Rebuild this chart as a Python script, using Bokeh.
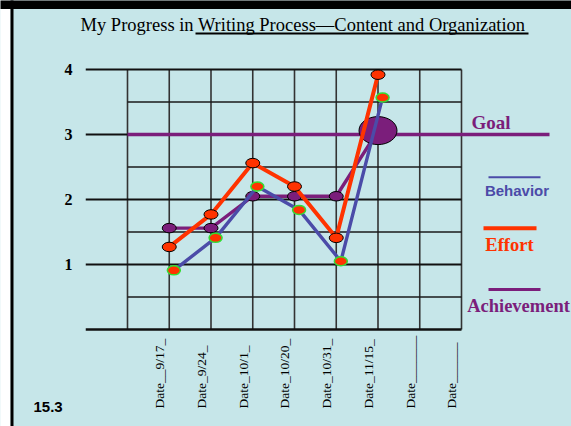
from math import pi
from bokeh.plotting import figure
from bokeh.models import Range1d, FixedTicker, ColumnDataSource, LabelSet, Label, BoxAnnotation
from bokeh.transform import dodge
from bokeh.core.properties import value
from bokeh.embed import file_html
from bokeh.resources import INLINE

# ---------------- data ----------------
title_text = "My Progress in Writing Process\u2014Content and Organization"
date_labels = ["Date__9/17_", "Date_9/24_", "Date_10/1_", "Date_10/20_",
               "Date_10/31_", "Date_11/15_", "Date_______", "Date______"]
sessions = [1, 2, 3, 4, 5, 6]
effort = [1.27, 1.77, 2.56, 2.20, 1.41, 3.92]
behavior = [0.91, 1.41, 2.20, 1.84, 1.05, 3.57]
achievement = [1.56, 1.56, 2.05, 2.05, 2.05, 3.06]
goal = 3
y_ticks = [1, 2, 3, 4]
legend_names = ["Goal", "Behavior", "Effort", "Achievement"]
slide_number = "15.3"

# ---------------- layout helpers ----------------
BG = "#C6E6E9"
PURPLE = "#7B1E7B"
RED = "#FF3300"
BLUE = "#4B4BA8"
GREEN = "#33DD33"
SERIF = "Liberation Serif"
SANS = "Liberation Sans"

PX, PY = 41.75, 65.0          # pixels per unit
OX, OY = 127.0, 329.0         # canvas position of (0, 0)
W, H = 571, 426


def xd(px):
    return (px - OX) / PX


def yd(py):
    return (OY - py) / PY


p = figure(width=W, height=H, output_backend="svg", toolbar_location=None,
           x_range=Range1d(xd(0), xd(W)), y_range=Range1d(yd(H), yd(0)),
           x_axis_location=None,
           min_border_left=0, min_border_right=0, min_border_top=0,
           min_border_bottom=0)
p.background_fill_color = BG
p.border_fill_color = BG
p.outline_line_color = None
p.grid.visible = False

# y axis (drawn inside the canvas, left of the grid)
ax = p.yaxis[0]
ax.fixed_location = xd(80)
ax.ticker = FixedTicker(ticks=y_ticks)
ax.axis_line_color = None
ax.major_tick_line_color = None
ax.minor_tick_line_color = None
ax.major_tick_out = 0
ax.major_tick_in = 0
ax.major_label_standoff = 8
ax.major_label_text_font = SERIF
ax.major_label_text_font_style = "bold"
ax.major_label_text_font_size = "16px"
ax.major_label_text_color = "black"

# grid
n_cols = len(date_labels)
top = max(y_ticks)
cols = list(range(n_cols + 1))
p.segment(x0=cols, y0=[0] * len(cols), x1=cols, y1=[top] * len(cols),
          line_color="#333333", line_width=1.6)
halves = [t - 0.5 for t in y_ticks]
p.segment(x0=[0] * len(halves), y0=halves, x1=[n_cols] * len(halves), y1=halves,
          line_color="#1a1a1a", line_width=1.6)
majors = y_ticks
p.segment(x0=[-1] * len(majors), y0=majors, x1=[n_cols] * len(majors), y1=majors,
          line_color="#111111", line_width=1.8)
p.segment(x0=[-1], y0=[0], x1=[n_cols], y1=[0], line_color="#111111", line_width=2.6)

# goal line
p.segment(x0=[0], y0=[goal], x1=[xd(549)], y1=[goal], line_color=PURPLE, line_width=3.6)

# achievement
src_a = ColumnDataSource(dict(x=sessions, y=achievement))
p.line("x", "y", source=src_a, line_color=PURPLE, line_width=3.4)
p.ellipse(x=sessions[:-1], y=achievement[:-1], width=14, height=9.5,
          width_units="screen", height_units="screen",
          fill_color=PURPLE, line_color="black", line_width=1)
p.ellipse(x=sessions[-1:], y=achievement[-1:], width=38, height=28,
          width_units="screen", height_units="screen",
          fill_color=PURPLE, line_color="black", line_width=1)

# effort
src_e = ColumnDataSource(dict(x=sessions, y=effort))
p.line("x", "y", source=src_e, line_color=RED, line_width=4)
p.ellipse("x", "y", source=src_e, width=14, height=9.5,
          width_units="screen", height_units="screen",
          fill_color=RED, line_color="black", line_width=1)

# behavior
src_b = ColumnDataSource(dict(x=sessions, y=behavior))
p.line(x=dodge("x", 0.11), y="y", source=src_b, line_color=BLUE, line_width=3.4)
p.ellipse(x=dodge("x", 0.11), y="y", source=src_b, width=13, height=9,
          width_units="screen", height_units="screen",
          fill_color=RED, line_color=GREEN, line_width=1.5)

# date labels (x axis)
src_d = ColumnDataSource(dict(x=list(range(1, n_cols + 1)), text=date_labels))
p.add_layout(LabelSet(x=dodge("x", -0.23), y=value(yd(408)), text="text", source=src_d,
                      angle=pi / 2, text_align="left", text_baseline="middle",
                      text_font=value(SERIF), text_font_size=value("13.5px"),
                      text_color="black"))

# title
p.add_layout(Label(x=xd(302.5), y=yd(24), text=title_text, text_align="center",
                   text_baseline="middle", text_font=SERIF,
                   text_font_size="18.5px", text_color="black"))
p.segment(x0=[xd(195)], y0=[yd(33)], x1=[xd(528)], y1=[yd(33)],
          line_color="black", line_width=1.8)

# legend
p.add_layout(Label(x=xd(471), y=yd(122), text=legend_names[0], text_align="left",
                   text_baseline="middle", text_font=SERIF, text_font_style="bold",
                   text_font_size="19px", text_color=PURPLE))
p.segment(x0=[xd(488)], y0=[yd(176.7)], x1=[xd(540)], y1=[yd(176.7)],
          line_color=BLUE, line_width=2)
p.add_layout(Label(x=xd(516.5), y=yd(190), text=legend_names[1], text_align="center",
                   text_baseline="middle", text_font=SANS, text_font_style="bold",
                   text_font_size="15px", text_color=BLUE))
p.segment(x0=[xd(483)], y0=[yd(227.7)], x1=[xd(536)], y1=[yd(227.7)],
          line_color=RED, line_width=4)
p.add_layout(Label(x=xd(509), y=yd(244), text=legend_names[2], text_align="center",
                   text_baseline="middle", text_font=SERIF, text_font_style="bold",
                   text_font_size="18.5px", text_color=RED))
p.segment(x0=[xd(488)], y0=[yd(289)], x1=[xd(540)], y1=[yd(289)],
          line_color=PURPLE, line_width=3)
p.add_layout(Label(x=xd(518), y=yd(305), text=legend_names[3], text_align="center",
                   text_baseline="middle", text_font=SERIF, text_font_style="bold",
                   text_font_size="18.5px", text_color=PURPLE))

# slide number
p.add_layout(Label(x=xd(33), y=yd(406.5), text=slide_number, text_align="left",
                   text_baseline="middle", text_font=SANS, text_font_style="bold",
                   text_font_size="15px", text_color="black"))

# slide frame: white strip, black left and top borders
p.add_layout(BoxAnnotation(left=xd(-5), right=xd(10), bottom=yd(440), top=yd(-5),
                           fill_color="white", fill_alpha=1, line_color=None))
p.add_layout(BoxAnnotation(left=xd(10), right=xd(13), bottom=yd(440), top=yd(-5),
                           fill_color="black", fill_alpha=1, line_color=None))
p.add_layout(BoxAnnotation(left=xd(-5), right=xd(580), bottom=yd(8.5), top=yd(-5),
                           fill_color="black", fill_alpha=1, line_color=None))

open("out.html", "w").write(file_html(p, INLINE))
